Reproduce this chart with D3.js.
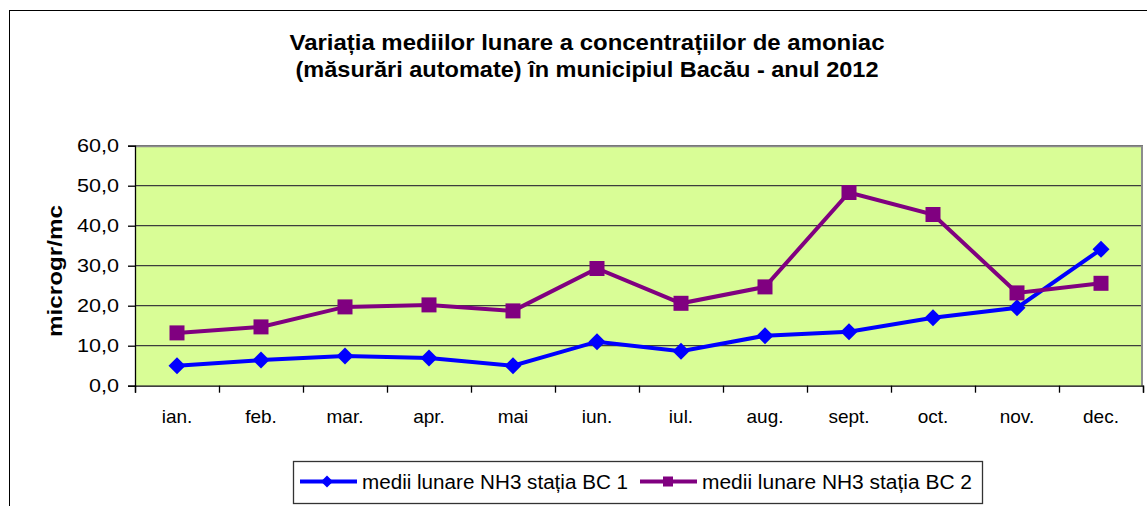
<!DOCTYPE html>
<html>
<head>
<meta charset="utf-8">
<script src="https://cdn.jsdelivr.net/npm/d3@7"></script>
<style>
  body { margin: 0; background: #fff; }
  text { font-family: "Liberation Sans", Arial, sans-serif; }
</style>
</head>
<body>
<div id="chart"></div>
<script>
// data
var months = ["ian.", "feb.", "mar.", "apr.", "mai", "iun.", "iul.", "aug.", "sept.", "oct.", "nov.", "dec."];
var bc1 = [5.0, 6.4, 7.4, 6.9, 5.0, 11.0, 8.6, 12.5, 13.5, 17.0, 19.5, 34.1];
var bc2 = [13.2, 14.7, 19.7, 20.2, 18.7, 29.3, 20.6, 24.7, 48.3, 42.8, 23.2, 25.6];
var yTicks = [0, 10, 20, 30, 40, 50, 60];
var seriesNames = ["medii lunare NH3 stația BC 1", "medii lunare NH3 stația BC 2"];
var titleLines = ["Variația mediilor lunare a concentrațiilor de amoniac", "(măsurări automate) în municipiul Bacău - anul 2012"];

var W = 1147, H = 506;
var margin = {top: 145.7, right: 4, bottom: 120.3, left: 135},
    width = W - margin.left - margin.right,
    height = H - margin.top - margin.bottom;

var svg = d3.select("#chart")
  .append("svg")
    .attr("width", W)
    .attr("height", H);

// outer chart frame (runs off the right and bottom edges)
svg.append("rect")
  .attr("x", 9.5).attr("y", 10.5)
  .attr("width", 1200).attr("height", 600)
  .attr("fill", "#fff")
  .attr("stroke", "#000")
  .attr("stroke-width", 1);

// title (the original text is a bit stretched, so fit widths)
var titleWidths = [595, 583];
svg.append("g").selectAll("text")
  .data(titleLines)
  .enter()
  .append("text")
    .attr("x", 587)
    .attr("y", function (d, i) { return 50 + i * 27; })
    .attr("text-anchor", "middle")
    .attr("textLength", function (d, i) { return titleWidths[i]; })
    .attr("lengthAdjust", "spacingAndGlyphs")
    .style("font-size", "22px")
    .style("font-weight", "bold")
    .text(function (d) { return d; });

var g = svg.append("g")
  .attr("transform", "translate(" + margin.left + "," + margin.top + ")");

var x = d3.scaleBand()
  .domain(months)
  .range([0, width]);

var xEdge = d3.scaleLinear()
  .domain([0, months.length])
  .range([0, width]);

var y = d3.scaleLinear()
  .domain([0, 60])
  .range([height, 0]);

// plot background
g.append("rect")
  .attr("width", width)
  .attr("height", height)
  .attr("fill", "#d9fd96");

// gridlines
g.append("g")
  .selectAll("line")
  .data(yTicks.slice(1))
  .enter()
  .append("line")
    .attr("x1", 0).attr("x2", width)
    .attr("y1", function (d) { return y(d); })
    .attr("y2", function (d) { return y(d); })
    .attr("stroke", "#3c3c3c")
    .attr("stroke-width", 1.3);

// plot border top/right
g.append("path")
  .attr("d", "M0,0.5H" + (width - 1) + "V" + height)
  .attr("fill", "none")
  .attr("stroke", "#8c8c8c")
  .attr("stroke-width", 2);

var fmt = function (d) { return d3.format(".1f")(d).replace(".", ","); };

// Y axis
var yAxis = g.append("g")
  .call(d3.axisLeft(y).tickValues(yTicks).tickFormat(fmt).tickSize(7).tickPadding(9));
yAxis.selectAll("text")
  .style("font-size", "19px")
  .attr("fill", "#000")
  .attr("textLength", function (d) { return fmt(d).length > 3 ? 42 : 30; })
  .attr("lengthAdjust", "spacingAndGlyphs");
yAxis.selectAll("line, path").attr("stroke", "#000").attr("stroke-width", 1.3);

// X axis with ticks on category edges
var xAxis = g.append("g")
  .attr("transform", "translate(0," + height + ")")
  .call(d3.axisBottom(xEdge).ticks(12).tickFormat("").tickSize(7));
xAxis.selectAll("line, path").attr("stroke", "#000").attr("stroke-width", 1.3);

g.append("g")
  .selectAll("text")
  .data(months)
  .enter()
  .append("text")
    .attr("x", function (d) { return x(d) + x.bandwidth() / 2; })
    .attr("y", height + 37)
    .attr("text-anchor", "middle")
    .style("font-size", "19px")
    .text(function (d) { return d; });

// Y title
svg.append("text")
  .attr("transform", "translate(62,271) rotate(-90)")
  .attr("text-anchor", "middle")
  .attr("textLength", 132)
  .attr("lengthAdjust", "spacingAndGlyphs")
  .style("font-size", "20px")
  .style("font-weight", "bold")
  .text("microgr/mc");

var line = d3.line()
  .x(function (d, i) { return x(months[i]) + x.bandwidth() / 2; })
  .y(function (d) { return y(d); });

var diamond = function (s) { return "M0," + (-s) + "L" + s + ",0L0," + s + "L" + (-s) + ",0Z"; };

// BC 1
g.append("path")
  .datum(bc1)
  .attr("d", line)
  .attr("fill", "none")
  .attr("stroke", "#0000ff")
  .attr("stroke-width", 4);

// BC 2
g.append("path")
  .datum(bc2)
  .attr("d", line)
  .attr("fill", "none")
  .attr("stroke", "#800080")
  .attr("stroke-width", 4);

g.append("g")
  .selectAll("path")
  .data(bc1)
  .enter()
  .append("path")
    .attr("transform", function (d, i) { return "translate(" + (x(months[i]) + x.bandwidth() / 2) + "," + y(d) + ")"; })
    .attr("d", diamond(8.5))
    .attr("fill", "#0000ff");

g.append("g")
  .selectAll("rect")
  .data(bc2)
  .enter()
  .append("rect")
    .attr("x", function (d, i) { return x(months[i]) + x.bandwidth() / 2 - 7.5; })
    .attr("y", function (d) { return y(d) - 7.5; })
    .attr("width", 15)
    .attr("height", 15)
    .attr("fill", "#800080");

// legend
var legend = svg.append("g");
legend.append("rect")
  .attr("x", 293.5).attr("y", 461.5)
  .attr("width", 689).attr("height", 42)
  .attr("fill", "#fff")
  .attr("stroke", "#333")
  .attr("stroke-width", 1.3);

var legX = [300, 640];
var legTextX = [362, 702];
var legTextW = [266, 270];
var legColors = ["#0000ff", "#800080"];
legend.selectAll("line")
  .data(seriesNames)
  .enter()
  .append("line")
    .attr("x1", function (d, i) { return legX[i]; })
    .attr("x2", function (d, i) { return legX[i] + 57; })
    .attr("y1", 481.5).attr("y2", 481.5)
    .attr("stroke", function (d, i) { return legColors[i]; })
    .attr("stroke-width", 4);

legend.append("path")
  .attr("transform", "translate(" + (legX[0] + 27) + ",481.5)")
  .attr("d", diamond(6))
  .attr("fill", legColors[0]);

legend.append("rect")
  .attr("x", legX[1] + 28 - 5).attr("y", 476.5)
  .attr("width", 10).attr("height", 10)
  .attr("fill", legColors[1]);

legend.selectAll("text")
  .data(seriesNames)
  .enter()
  .append("text")
    .attr("x", function (d, i) { return legTextX[i]; })
    .attr("y", 488.5)
    .attr("textLength", function (d, i) { return legTextW[i]; })
    .attr("lengthAdjust", "spacingAndGlyphs")
    .style("font-size", "20px")
    .text(function (d) { return d; });
</script>
</body>
</html>
